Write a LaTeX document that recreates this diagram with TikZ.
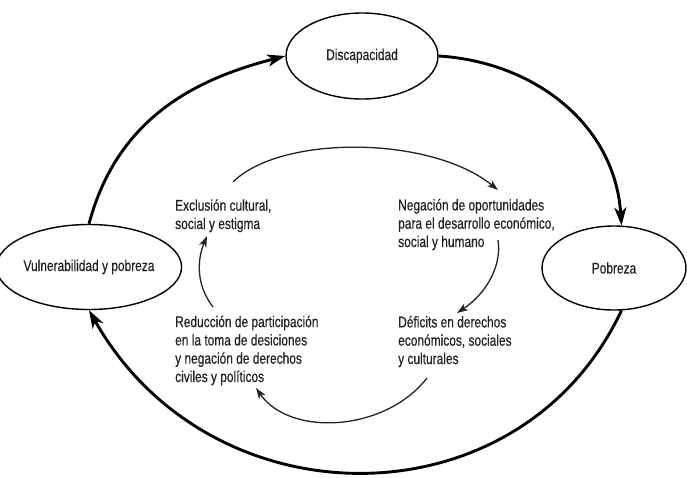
\documentclass[tikz,border=0pt]{standalone}
\usepackage{fontspec}
\setmainfont{Liberation Sans}[FakeStretch=0.77,FakeBold=0.5]
\usetikzlibrary{arrows.meta}
\usetikzlibrary{shapes}
\definecolor{ink}{HTML}{222222}
\tikzset{x=1pt,y=-1pt,
 every node/.style={font=\fontsize{15.5pt}{18.3pt}\selectfont,text=ink},
 state/.style={ellipse,draw=black,line width=1.4pt,inner sep=0pt},
 item/.style={anchor=base west,align=left,inner sep=0pt},
 bigarrow/.style={line width=2.9pt,-{Stealth[length=18pt,width=12pt,inset=5pt]}},
 smallarrow/.style={draw=ink,line width=1.3pt,-{Stealth[length=11pt,width=7.5pt,inset=3pt]}},
 }

\begin{document}
\begin{tikzpicture}
    \useasboundingbox (0,0) rectangle (687,477);
    \node[state,minimum width=152pt,minimum height=86pt] (disc) at (362,56) {Discapacidad};
    \node[state,minimum width=154pt,minimum height=85pt] (vuln) at (89,267) {Vulnerabilidad y pobreza};
    \node[state,minimum width=144pt,minimum height=84pt] (pob) at (614,268) {Pobreza};

    \node[item] (excl) at (175,229) {Exclusión cultural,\\social y estigma};
    \node[item] (neg) at (398,247) {Negación de oportunidades\\para el desarrollo económico,\\social y humano};
    \node[item] (red) at (175,382) {Reducción de participación\\en la toma de desiciones\\y negación de derechos\\civiles y políticos};
    \node[item] (def) at (398,364) {Déficits en derechos\\económicos, sociales\\y culturales};

    \draw[bigarrow] (vuln.north) .. controls (118,115) and (200,78) .. (disc.west);
    \draw[bigarrow] (disc.east) .. controls (535,62) and (615,125) .. (pob.80);
    \draw[bigarrow] (pob.-80) .. controls (520,526) and (211,526) .. (vuln.south);

    \coordinate (c1) at (233,182);
    \coordinate (c2) at (498,190);
    \coordinate (c3) at (498,240);
    \coordinate (c4) at (457,313);
    \coordinate (c5) at (427,378);
    \coordinate (c6) at (256,388);
    \coordinate (c7) at (213,307);
    \coordinate (c8) at (207,236);
    \draw[smallarrow] (c1) .. controls (280,135) and (430,135) .. (c2);
    \draw[smallarrow] (c3) .. controls (502,265) and (487,293) .. (c4);
    \draw[smallarrow] (c5) .. controls (385,432) and (290,437) .. (c6);
    \draw[smallarrow] (c7) .. controls (196,285) and (197,260) .. (c8);
\end{tikzpicture}
\end{document}
